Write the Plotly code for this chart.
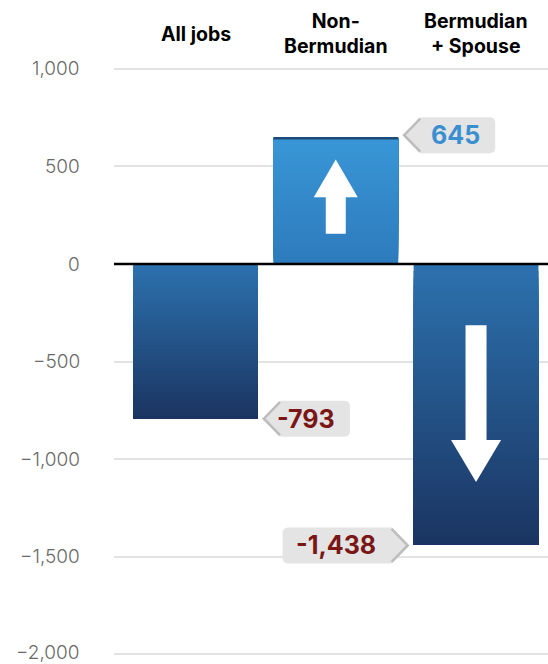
import math
import plotly.graph_objects as go

# ---------------- data ----------------
categories = ["All jobs", "Non-<br>Bermudian", "Bermudian<br>+ Spouse"]
values = [-793, 645, -1438]
value_labels = ["-793", "645", "-1,438"]
y_ticks = [1000, 500, 0, -500, -1000, -1500, -2000]
y_tick_labels = ["1,000", "500", "0", "−500", "−1,000", "−1,500", "−2,000"]

# ---------------- layout constants ----------------
W, H = 548, 664
ML, MR, MT, MB = 114, 0, 60, 0
XR = [-0.581, 2.513]
YR = [-2051, 1046]
PXX = (W - ML - MR) / (XR[1] - XR[0])   # px per x unit
PXY = (H - MT - MB) / (YR[1] - YR[0])   # px per y unit
BAR_W = 0.89
FONT = "Inter"


def hex2rgb(h):
    h = h.lstrip("#")
    return tuple(int(h[i:i + 2], 16) for i in (0, 2, 4))


def mix(c1, c2, t):
    a, b = hex2rgb(c1), hex2rgb(c2)
    return "rgb(%d,%d,%d)" % tuple(round(a[k] + (b[k] - a[k]) * t) for k in range(3))


fig = go.Figure()

# ---------------- gradient bars (overlapping segments of each value) ----------------
N = 40
for i, v in enumerate(values):
    if v < 0:
        c_start, c_end = "#2c71ae", "#1b3562"   # near zero -> far end
    else:
        c_start, c_end = "#2d7bbd", "#3996d6"
    cols = [mix(c_start, c_end, k / (N - 1)) for k in range(N)]
    bases = [v * k / N for k in range(N)]
    fig.add_trace(go.Bar(
        x=[i] * N,
        base=bases,
        y=[v - b for b in bases],
        width=BAR_W,
        marker=dict(color=cols, line=dict(width=0)),
        hoverinfo="skip", showlegend=False,
    ))
    if v > 0:
        fig.add_trace(go.Scatter(
            x=[i - BAR_W / 2, i + BAR_W / 2], y=[v, v], mode="lines",
            line=dict(color="#1d4b78", width=2.5),
            hoverinfo="skip", showlegend=False,
        ))

# ---------------- white arrows inside bars ----------------
def arrow(i, v, f_tail, f_base, f_tip, shaft_px, head_px):
    sw = shaft_px / 2 / PXX
    hw = head_px / 2 / PXX
    xs = [i - sw, i - sw, i - hw, i, i + hw, i + sw, i + sw, i - sw]
    ys = [v * f_tail, v * f_base, v * f_base, v * f_tip, v * f_base, v * f_base, v * f_tail, v * f_tail]
    fig.add_trace(go.Scatter(
        x=xs, y=ys, mode="lines", fill="toself", fillcolor="white",
        line=dict(color="white", width=0), hoverinfo="skip", showlegend=False,
    ))

arrow(1, values[1], 0.24, 0.53, 0.83, 20, 44)
arrow(2, values[2], 0.218, 0.628, 0.777, 21, 50)

# ---------------- callout labels ----------------
def callout(i, v, side, text, color, far_px, text_px, dy_px=0, tip_gap=4, depth=18, hgt=36, r=5):
    # side = +1: callout on right of bar, pointing left; -1: on left, pointing right
    ax = i + side * BAR_W / 2
    ay = v
    dx = lambda p: p / PXX
    dy = lambda p: -p / PXY          # px downwards -> data
    cy = dy_px
    tip = tip_gap * side
    base = (tip_gap + depth) * side
    far = far_px * side
    top, bot = cy - hgt / 2, cy + hgt / 2
    pts = [(tip, cy), (base, top), (far - side * r, top)]
    for k in range(1, 6):
        a = k / 5 * math.pi / 2
        pts.append((far - side * r + side * r * math.sin(a), top + r - r * math.cos(a)))
    for k in range(0, 6):
        a = k / 5 * math.pi / 2
        pts.append((far - side * r + side * r * math.cos(a), bot - r + r * math.sin(a)))
    pts += [(base, bot), (tip, cy)]
    fig.add_trace(go.Scatter(
        x=[ax + dx(p[0]) for p in pts], y=[ay + dy(p[1]) for p in pts],
        mode="lines", fill="toself", fillcolor="#e4e4e4",
        line=dict(color="#e4e4e4", width=0), hoverinfo="skip", showlegend=False,
    ))
    edge = [(base, top + 1.5), (tip + side * 2, cy), (base, bot - 1.5)]
    fig.add_trace(go.Scatter(
        x=[ax + dx(p[0]) for p in edge], y=[ay + dy(p[1]) for p in edge],
        mode="lines", line=dict(color="#bdbdbd", width=2.5),
        hoverinfo="skip", showlegend=False,
    ))
    fig.add_annotation(
        x=ax + dx(side * text_px), y=ay + dy(cy), xref="x", yref="y", showarrow=False,
        text="<b>%s</b>" % text,
        font=dict(family=FONT, size=25, color=color),
        xanchor="center", yanchor="middle",
    )

callout(0, values[0], +1, value_labels[0], "#7a1616", 92, 48)
callout(1, values[1], +1, value_labels[1], "#3a8fd0", 97, 57, dy_px=-3)
callout(2, values[2], -1, value_labels[2], "#7a1616", 131, 78, dy_px=1)

# ---------------- column headers ----------------
for i, c in enumerate(categories):
    fig.add_annotation(
        x=i, xref="x", y=1 + (MT - 34) / (H - MT - MB), yref="paper",
        text="<b>%s</b>" % c, showarrow=False, xanchor="center", yanchor="middle",
        font=dict(family=FONT, size=19.5, color="#000000"),
    )

# ---------------- y tick labels ----------------
for t, lab in zip(y_ticks, y_tick_labels):
    fig.add_annotation(
        x=0, xref="paper", xshift=-32, y=t, yref="y", text=lab, showarrow=False,
        xanchor="right", yanchor="middle", yshift=2 if t == y_ticks[-1] else 0,
        font=dict(family=FONT, size=19, color="#6a6a6a", weight=300),
    )

# ---------------- zero line ----------------
fig.add_shape(type="line", xref="paper", x0=0, x1=1, yref="y", y0=0, y1=0,
              line=dict(color="black", width=2.5), layer="above")

fig.update_layout(
    width=W, height=H,
    margin=dict(l=ML, r=MR, t=MT, b=MB),
    paper_bgcolor="white", plot_bgcolor="white",
    barmode="overlay",
    showlegend=False,
    xaxis=dict(
        range=XR, showticklabels=False,
        showgrid=False, zeroline=False, showline=False, ticks="",
        fixedrange=True,
    ),
    yaxis=dict(
        range=YR, tickmode="array", tickvals=y_ticks, showticklabels=False,
        showgrid=True, gridcolor="#e3e3e3", gridwidth=2,
        zeroline=False, showline=False, ticks="",
        fixedrange=True,
    ),
)

fig.write_html("out.html")
